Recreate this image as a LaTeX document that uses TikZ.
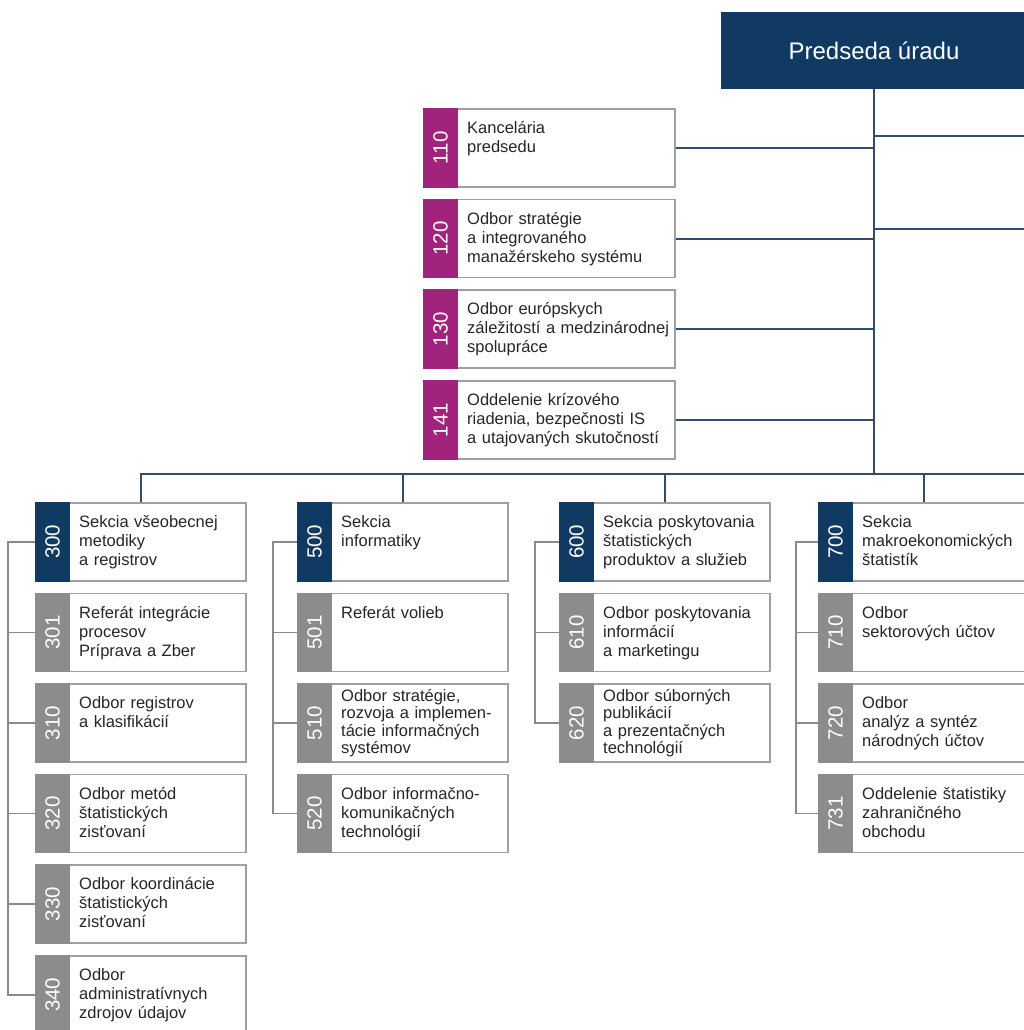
\documentclass[tikz,border=0pt]{standalone}
\usepackage{fontspec}
\setmainfont{Liberation Sans}
\usetikzlibrary{positioning,calc}
\definecolor{navy}{HTML}{113A62}
\definecolor{plum}{HTML}{A2237B}
\definecolor{tagGray}{HTML}{8C8C8D}
\definecolor{frameGray}{HTML}{A0A0A0}
\definecolor{lineBlue}{HTML}{2F4D6D}
\definecolor{stemGray}{HTML}{8A8A8A}

\begin{document}
\begin{tikzpicture}[x=1pt, y=-1pt,
    unit/.style={draw=frameGray, line width=1.6pt, fill=white, minimum width=210pt,
        minimum height=78pt, inner sep=0pt, anchor=north west},
    codetext/.style={rotate=90, text=white, font=\fontsize{20.5}{20.5}\selectfont},
    unittext/.style={anchor=base west, align=left, text width=205pt, inner sep=0pt,
        text=black!85, font=\fontsize{16.5}{19}\selectfont},
    roomy/.style={},
    packed/.style={font=\fontsize{16.5}{17.5}\selectfont, yshift=7.5pt},
    link/.style={draw=lineBlue, line width=2pt},
    stem/.style={draw=stemGray, line width=1.6pt}]

    \useasboundingbox (0,0) rectangle (1024,1030);

    % chairman
    \node[fill=navy, minimum width=306pt, minimum height=77pt, text=white,
        font=\fontsize{24}{24}\selectfont] (chair) at (874,50.5) {Predseda úradu};

    % staff units
    \foreach \n/\row/\txt in {
        110/0/{Kancelária\\predsedu},
        120/1/{Odbor stratégie\\a integrovaného\\manažérskeho systému},
        130/2/{Odbor európskych\\záležitostí a medzinárodnej\\spolupráce},
        141/3/{Oddelenie krízového\\riadenia, bezpečnosti IS\\a utajovaných skutočností}} {
        \node[unit, minimum width=251pt] (u\n) at (423, 108+90.7*\row) {};
        \path[fill=plum] (u\n.north west) rectangle ($(u\n.south west)+(35,0)$);
        \node[codetext] at ($(u\n.west)+(17.5,0)$) {\n};
        \node[unittext] at ($(u\n.north west)+(44,25.5)$) {\txt};
    }

    % sections and their departments
    \foreach \n/\x/\row/\tag/\fit/\txt in {
        300/35/0/navy/roomy/{Sekcia všeobecnej\\metodiky\\a registrov},
        301/35/1/tagGray/roomy/{Referát integrácie\\procesov\\Príprava a Zber},
        310/35/2/tagGray/roomy/{Odbor registrov\\a klasifikácií},
        320/35/3/tagGray/roomy/{Odbor metód\\štatistických\\zisťovaní},
        330/35/4/tagGray/roomy/{Odbor koordinácie\\štatistických\\zisťovaní},
        340/35/5/tagGray/roomy/{Odbor\\administratívnych\\zdrojov údajov},
        500/297/0/navy/roomy/{Sekcia\\informatiky},
        501/297/1/tagGray/roomy/{Referát volieb},
        510/297/2/tagGray/packed/{Odbor stratégie,\\rozvoja a implemen-\\tácie informačných\\systémov},
        520/297/3/tagGray/roomy/{Odbor informačno-\\komunikačných\\technológií},
        600/559/0/navy/roomy/{Sekcia poskytovania\\štatistických\\produktov a služieb},
        610/559/1/tagGray/roomy/{Odbor poskytovania\\informácií\\a marketingu},
        620/559/2/tagGray/packed/{Odbor súborných\\publikácií\\a prezentačných\\technológií},
        700/818/0/navy/roomy/{Sekcia\\makroekonomických\\štatistík},
        710/818/1/tagGray/roomy/{Odbor\\sektorových účtov},
        720/818/2/tagGray/roomy/{Odbor\\analýz a syntéz\\národných účtov},
        731/818/3/tagGray/roomy/{Oddelenie štatistiky\\zahraničného\\obchodu}} {
        \node[unit] (u\n) at (\x, 502+90.6*\row) {};
        \path[fill=\tag] (u\n.north west) rectangle ($(u\n.south west)+(35,0)$);
        \node[codetext] at ($(u\n.west)+(17.5,0)$) {\n};
        \node[unittext, \fit] at ($(u\n.north west)+(44,25.5)$) {\txt};
    }

    % lines of command
    \coordinate (bus) at (874,474);
    \coordinate (busend) at (1024,474);
    \coordinate (out1) at (1024,136);
    \coordinate (out2) at (1024,229);
    \path[link] (chair.south) -- (bus);
    \path[link] (out1 -| chair.south) -- (out1);
    \path[link] (out2 -| chair.south) -- (out2);
    \foreach \n in {110,120,130,141} {
        \path[link] (u\n.east) -- (u\n.east -| chair.south);
    }
    \path[link] (u300.north) |- (busend);
    \foreach \n in {500,600,700} {
        \path[link] (u\n.north) -- (u\n.north |- bus);
    }

    % brackets on the left of each section
    \path[stem] (u300.west) -- ++(-27,0) |- (u340.west);
    \foreach \n in {301,310,320,330} {
        \path[stem] (u\n.west) -- ++(-27,0);
    }
    \path[stem] (u500.west) -- ++(-24,0) |- (u520.west);
    \foreach \n in {501,510} {
        \path[stem] (u\n.west) -- ++(-24,0);
    }
    \path[stem] (u600.west) -- ++(-24,0) |- (u620.west);
    \path[stem] (u610.west) -- ++(-24,0);
    \path[stem] (u700.west) -- ++(-22,0) |- (u731.west);
    \foreach \n in {710,720} {
        \path[stem] (u\n.west) -- ++(-22,0);
    }

\end{tikzpicture}
\end{document}
